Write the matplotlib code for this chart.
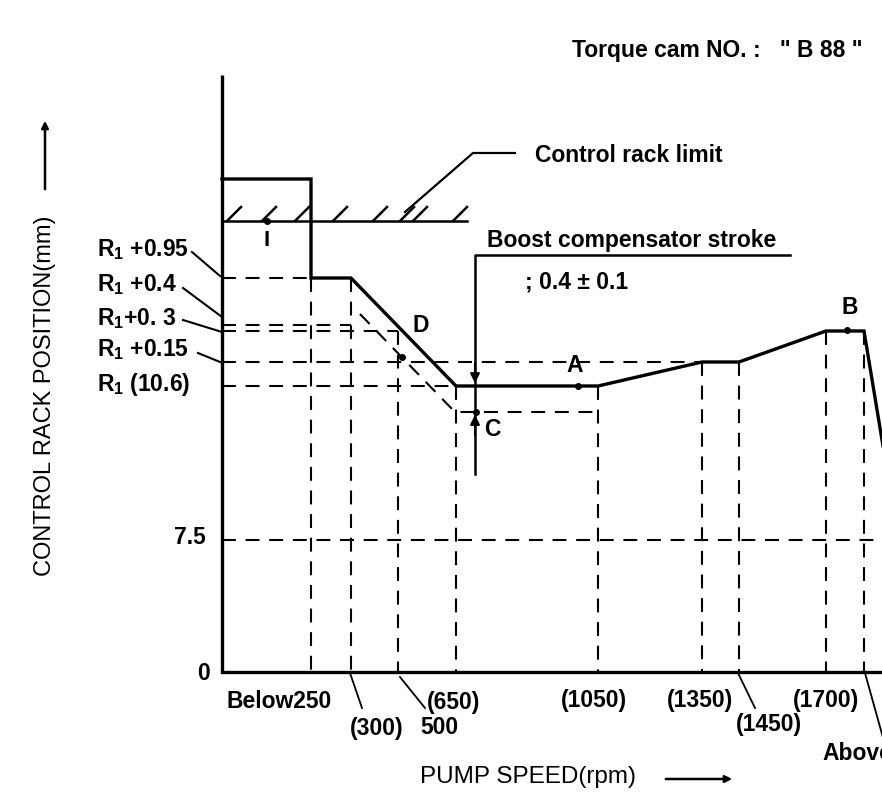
import matplotlib
matplotlib.use("Agg")
import matplotlib.pyplot as plt
import numpy as np

plt.rcParams['font.family'] = ['Liberation Sans', 'DejaVu Sans']
plt.rcParams['font.weight'] = 'bold'
plt.rcParams['lines.scale_dashes'] = False
plt.rcParams['mathtext.fontset'] = 'custom'
plt.rcParams['mathtext.rm'] = 'Liberation Sans:bold'
plt.rcParams['mathtext.bf'] = 'Liberation Sans:bold'

# schematic chart units (the original diagram has no linear scale)
# speed break points along the x axis
speed_pos = [89, 129, 176, 234, 376, 480, 517, 604, 642]
speed_top = [394, 394, 341, 286, 286, 310, 310, 341, 341]

# rack levels on the y axis
level_names = [r"R$_{\mathrm{1}}$ +0.95", r"R$_{\mathrm{1}}$ +0.4", r"R$_{\mathrm{1}}$+0. 3",
               r"R$_{\mathrm{1}}$ +0.15", r"R$_{\mathrm{1}}$ (10.6)"]
level_pos = [394, 347, 341, 310, 286]
level_end = [89, 129, 176, 480, 234]
y75 = 132

# full load rack curve
rack_x = [0, 89, 89, 129, 234, 376, 480, 517, 604, 642, 680]
rack_y = [493, 493, 394, 394, 286, 286, 310, 310, 341, 341, 111]

# boost compensated curve (dashed)
boost_x = [138, 230, 234, 376]
boost_y = [358, 263, 260, 260]

# control rack limit
limit_y = 451
limit_x_end = 245
hatch_x = [5, 40, 73, 111, 151, 178, 191, 231]

# points
pts = {"I": (45, 451), "D": (180, 315), "A": (356, 286), "B": (625, 342), "C": (254, 260)}

# x labels: text, x, y
x_labels = [("Below250", 4, -30, "left"), ("(300)", 155, -56, "center"),
            ("500", 217, -56, "center"), ("(650)", 232, -30, "center"),
            ("(1050)", 372, -28, "center"), ("(1350)", 478, -28, "center"),
            ("(1450)", 547, -53, "center"), ("(1700)", 604, -28, "center"),
            ("Above", 600, -81, "left")]

fig = plt.figure(figsize=(8.82, 7.93), dpi=100)
ax = fig.add_axes([0, 0, 1, 1])
ax.set_xlim(-222, 660)
ax.set_ylim(-121, 672)
ax.axis('off')

k = 'black'
fs = 16.5
dash = dict(color=k, lw=1.5, dashes=(10, 7))

# axes
ax.plot([0, 0], [0, 597], color=k, lw=2.4, solid_capstyle='butt')
ax.plot([0, 700], [0, 0], color=k, lw=2.4)

# dashed guide lines
for y, xe in zip(level_pos, level_end):
    ax.plot([0, xe], [y, y], **dash)
for x, yt in zip(speed_pos, speed_top):
    ax.plot([x, x], [yt, 0], **dash)
ax.plot([0, 700], [y75, y75], **dash)
ax.plot(boost_x, boost_y, **dash)

# rack curve
ax.plot(rack_x, rack_y, color=k, lw=2.4, solid_joinstyle='miter')

# control rack limit with hatch
ax.plot([0, limit_x_end], [limit_y, limit_y], color=k, lw=1.8)
for hx in hatch_x:
    ax.plot([hx, hx + 14], [limit_y, limit_y + 14], color=k, lw=1.8)
ax.plot([183, 251, 293], [460, 519, 519], color=k, lw=1.6)
ax.text(313, 516, "Control rack limit", fontsize=fs, va='center', ha='left')

# boost compensator stroke
ax.plot([253, 253, 568], [198, 417, 417], color=k, lw=1.8)
ax.annotate("", xy=(253, 286), xytext=(253, 312),
            arrowprops=dict(arrowstyle='-|>', color=k, lw=1.5, mutation_scale=14))
ax.annotate("", xy=(253, 260), xytext=(253, 234),
            arrowprops=dict(arrowstyle='-|>', color=k, lw=1.5, mutation_scale=14))
ax.text(265, 431, "Boost compensator stroke", fontsize=fs, va='center', ha='left')
ax.text(303, 390, "; 0.4 ± 0.1", fontsize=fs, va='center', ha='left')

# points
for name, (px, py) in pts.items():
    ax.plot(px, py, 'o', color=k, ms=4)
ax.text(45, 431, "I", fontsize=16, ha='center', va='center')
ax.text(199, 347, "D", fontsize=fs, ha='center', va='center')
ax.text(353, 307, "A", fontsize=fs, ha='center', va='center')
ax.text(628, 364, "B", fontsize=fs, ha='center', va='center')
ax.text(270, 242, "C", fontsize=fs, ha='center', va='center')

# level labels with leaders
level_text_y = [422, 387, 353, 322, 287]
for name, ty in zip(level_names, level_text_y):
    ax.text(-125, ty, name, fontsize=fs, ha='left', va='center')
leaders = [((-30, 420), (-2, 396)), ((-39, 384), (0, 355)),
           ((-39, 352), (0, 340)), ((-24, 319), (-2, 310))]
for (x0, y0), (x1, y1) in leaders:
    ax.plot([x0, x1], [y0, y1], color=k, lw=1.5)

ax.text(-16, y75 + 2, "7.5", fontsize=fs, ha='right', va='center')
ax.text(-19, -2, "0", fontsize=fs, ha='center', va='center')

# x labels
for t, x, y, ha in x_labels:
    ax.text(x, y, t, fontsize=fs, ha=ha, va='center')
for (x0, y0), (x1, y1) in [((128, -1), (140, -36)), ((178, -5), (203, -36)),
                           ((516, -1), (533, -36)), ((643, -1), (665, -80))]:
    ax.plot([x0, x1], [y0, y1], color=k, lw=1.3)

# axis titles
ax.text(306, -105, "PUMP SPEED(rpm)", fontsize=17.5, ha='center', va='center',
        fontweight='normal')
ax.annotate("", xy=(513, -107), xytext=(441, -107),
            arrowprops=dict(arrowstyle='-|>', color=k, lw=1.8, mutation_scale=10))
ax.text(-177, 276, "CONTROL RACK POSITION(mm)", fontsize=17, ha='center',
        va='center', rotation=90, fontweight='normal')
ax.annotate("", xy=(-177, 554), xytext=(-177, 480),
            arrowprops=dict(arrowstyle='-|>', color=k, lw=1.8, mutation_scale=10))

ax.text(640, 622, 'Torque cam NO. :   " B 88 "', fontsize=fs, ha='right', va='center')

fig.savefig("out.png", dpi=100)
